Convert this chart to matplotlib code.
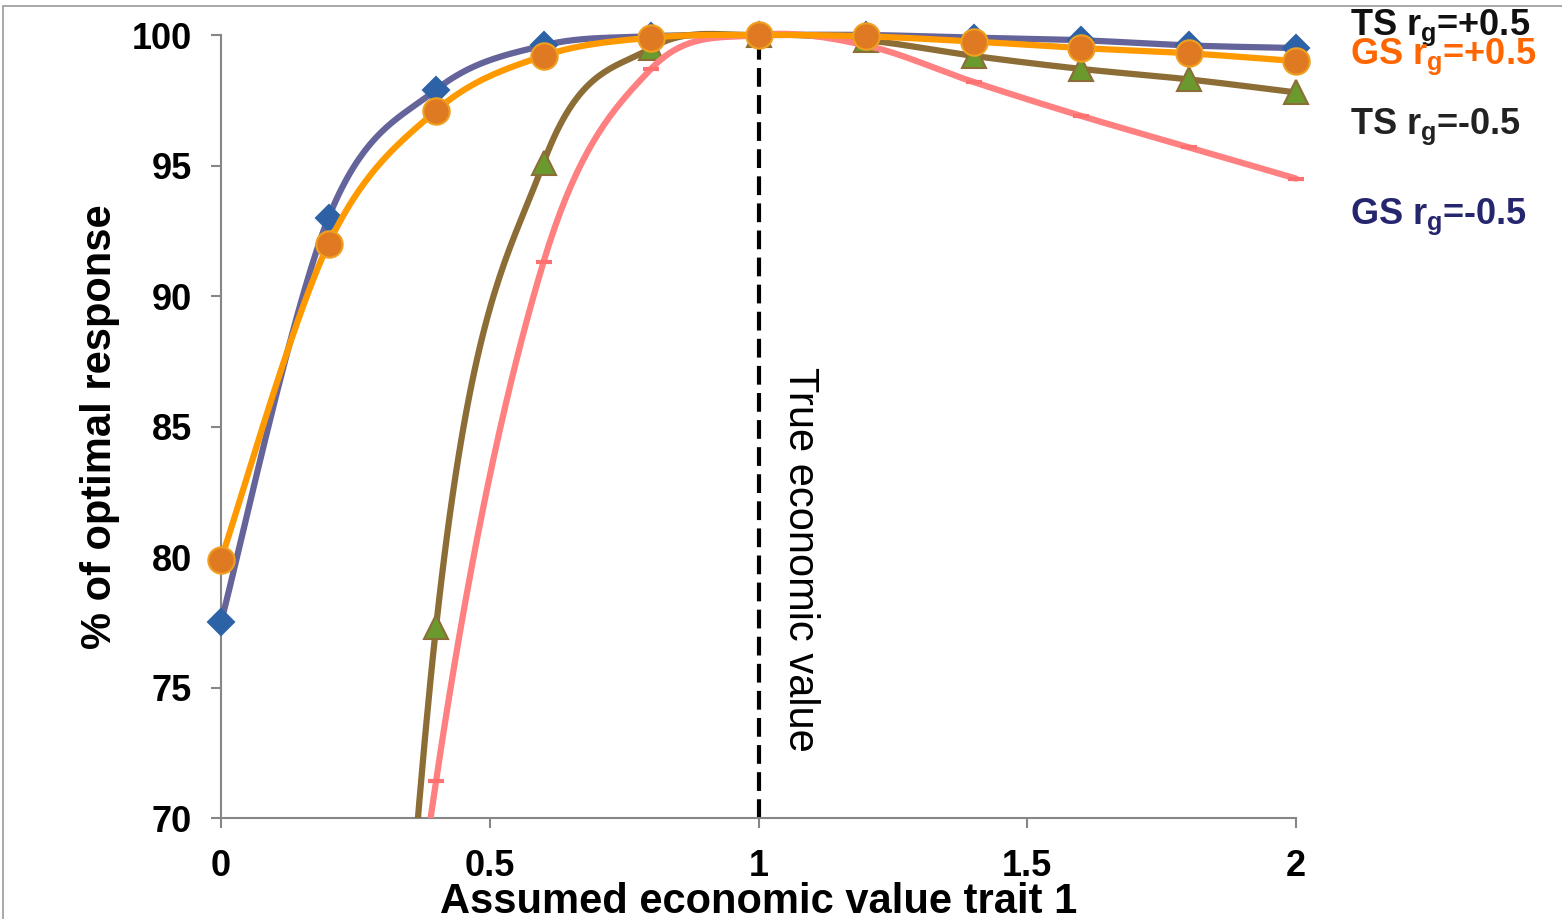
import numpy as np
import matplotlib
matplotlib.use("Agg")
import matplotlib.pyplot as plt
from matplotlib.patches import Rectangle

# DATA
x_vals = [0, 0.2, 0.4, 0.6, 0.8, 1.0, 1.2, 1.4, 1.6, 1.8, 2.0]
gs_neg = [77.5, 93.0, 97.9, 99.6, 99.95, 100, 100, 99.9, 99.8, 99.6, 99.5]
gs_pos = [79.9, 92.0, 97.1, 99.2, 99.9, 100, 99.95, 99.75, 99.5, 99.3, 99.0]
ts_pos = [-40, 20, 77.3, 95.1, 99.5, 100, 99.8, 99.2, 98.7, 98.3, 97.8]
ts_neg = [-20, 36, 71.4, 91.3, 98.7, 100, 99.6, 98.2, 96.9, 95.7, 94.5]

x_ticks = [0, 0.5, 1, 1.5, 2]
x_tick_labels = ["0", "0.5", "1", "1.5", "2"]
y_ticks = [70, 75, 80, 85, 90, 95, 100]

plt.rcParams['font.family'] = ['Liberation Sans', 'DejaVu Sans']
plt.rcParams['mathtext.fontset'] = 'custom'
plt.rcParams['mathtext.rm'] = 'Liberation Sans:bold'
plt.rcParams['mathtext.it'] = 'Liberation Sans:bold'
plt.rcParams['mathtext.bf'] = 'Liberation Sans:bold'


# FUNCTIONS
def smooth(xs, ys, n=40):
    # excel-style smoothed line (bezier through points)
    pts = np.column_stack([xs, ys]).astype(float)
    out = []
    m = len(pts)
    t = np.linspace(0, 1, n)[:, None]
    for i in range(m - 1):
        p0 = pts[i - 1] if i > 0 else pts[i]
        p1 = pts[i]
        p2 = pts[i + 1]
        p3 = pts[i + 2] if i + 2 < m else pts[i + 1]
        c1 = p1 + (p2 - p0) / 6.0
        c2 = p2 - (p3 - p1) / 6.0
        seg = ((1 - t) ** 3) * p1 + 3 * ((1 - t) ** 2) * t * c1 + 3 * (1 - t) * t ** 2 * c2 + t ** 3 * p2
        out.append(seg if i == 0 else seg[1:])
    out = np.vstack(out)
    return out[:, 0], out[:, 1]


fig = plt.figure(figsize=(15.62, 9.19), dpi=100)
ax = fig.add_axes([221 / 1562, 1 - 818 / 919, (1296 - 221) / 1562, (818 - 35) / 919])

# frame of the chart area (cut off at right/bottom)
fig.patches.append(Rectangle((3 / 1562, -0.1), 1.2, 1 - 6 / 919 + 0.1, transform=fig.transFigure,
                             fill=False, edgecolor='#9a9a9a', lw=1.2))

clip = Rectangle((-0.05, 0), 1.1, 1.06, transform=ax.transAxes)

series = [
    (gs_neg, '#64649a', 'D', '#2e62a6', '#2e62a6', 13),
    (ts_pos, '#8c6d36', '^', '#6a9a2e', '#8c6d36', 17),
    (ts_neg, '#ff8080', '_', '#ff7070', '#ff7070', 11),
    (gs_pos, '#ff9900', 'o', '#e07a22', '#f0a020', 19),
]
for z, (vals, lc, mk, mfc, mec, ms) in enumerate(series):
    sx, sy = smooth(x_vals, vals)
    line, = ax.plot(sx, sy, color=lc, lw=4.5, solid_capstyle='round', zorder=3 + z)
    line.set_clip_path(clip)
    pts, = ax.plot(x_vals, vals, ls='none', marker=mk, ms=ms, mfc=mfc, mec=mec,
                   mew=1.5 if mk != '_' else 3, zorder=3 + z)
    pts.set_clip_path(clip)

# true economic value line
ax.plot([1, 1], [70, 100], color='black', lw=3, ls=(0, (4.5, 2)), zorder=2)
ax.text(1.077, 79.9, "True economic value", rotation=270, fontsize=30,
        ha='center', va='center', color='black')

ax.set_xlim(0, 2)
ax.set_ylim(70, 100)
ax.set_xticks(x_ticks)
ax.set_xticklabels(x_tick_labels)
ax.set_yticks(y_ticks)
for s in ['top', 'right']:
    ax.spines[s].set_visible(False)
for s in ['left', 'bottom']:
    ax.spines[s].set_color('#868686')
    ax.spines[s].set_linewidth(1.5)
ax.tick_params(axis='both', direction='out', length=7, width=1.5, color='#868686',
               labelsize=26, pad=14)
ax.tick_params(axis='x', pad=15)
for lab in ax.get_xticklabels() + ax.get_yticklabels():
    lab.set_fontweight('bold')

ax.set_xlabel("Assumed economic value trait 1", fontsize=30, fontweight='bold', labelpad=-1)
ax.set_ylabel("% of optimal response", fontsize=30, fontweight='bold', labelpad=8)

# manual legend labels
fig.text(1350 / 1562, 1 - 35 / 919, r"TS $r_g$=+0.5", fontsize=26, fontweight='bold',
         color='#111111', va='baseline')
fig.text(1350 / 1562, 1 - 64 / 919, r"GS $r_g$=+0.5", fontsize=26, fontweight='bold',
         color='#ff6600', va='baseline')
fig.text(1350 / 1562, 1 - 134 / 919, r"TS $r_g$=-0.5", fontsize=26, fontweight='bold',
         color='#222222', va='baseline')
fig.text(1350 / 1562, 1 - 224 / 919, r"GS $r_g$=-0.5", fontsize=26, fontweight='bold',
         color='#26266e', va='baseline')

fig.savefig("out.png", dpi=100)
